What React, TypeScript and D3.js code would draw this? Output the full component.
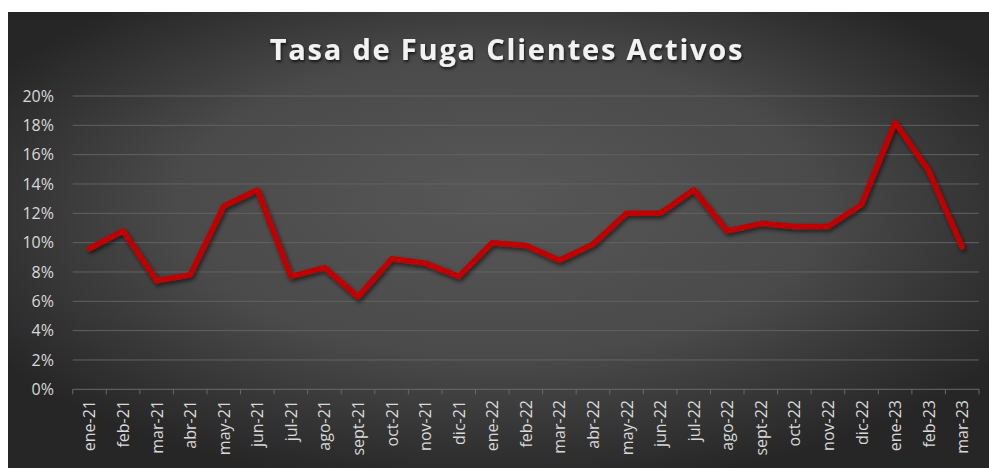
import React from "react";
import * as d3 from "d3";

const categories = ["ene-21","feb-21","mar-21","abr-21","may-21","jun-21","jul-21","ago-21","sept-21","oct-21","nov-21","dic-21","ene-22","feb-22","mar-22","abr-22","may-22","jun-22","jul-22","ago-22","sept-22","oct-22","nov-22","dic-22","ene-23","feb-23","mar-23"];
const values = [9.6,10.8,7.4,7.8,12.5,13.6,7.7,8.3,6.3,8.9,8.6,7.7,10.0,9.8,8.8,9.9,12.0,12.0,13.6,10.8,11.3,11.1,11.1,12.6,18.2,14.9,9.7];
const yTicks = [0,2,4,6,8,10,12,14,16,18,20];
const title = "Tasa de Fuga Clientes Activos";

export default function App() {
  const W = 989, H = 468;
  const left = 72.7, right = 979, top = 96, bottom = 389.3;
  const x = d3.scaleBand<string>().domain(categories).range([left, right]);
  const y = d3.scaleLinear().domain([0, 20]).range([bottom, top]);
  const line = d3.line<number>()
    .x((_, i) => (x(categories[i]) as number) + x.bandwidth() / 2)
    .y((d) => y(d));
  const font = "'Open Sans', sans-serif";
  return (
    <svg width={W} height={H} style={{ position: "absolute", left: 0, top: 0 }}>
      <defs>
        <radialGradient id="bg" cx="50%" cy="45%" r="60%" fx="50%" fy="40%">
          <stop offset="0%" stopColor="#575757" />
          <stop offset="55%" stopColor="#4a4a4a" />
          <stop offset="100%" stopColor="#262626" />
        </radialGradient>
        <filter id="shadow" x="-10%" y="-10%" width="120%" height="130%">
          <feDropShadow dx="1.5" dy="2.5" stdDeviation="2" floodColor="#000" floodOpacity="0.6" />
        </filter>
        <filter id="tshadow" x="-10%" y="-30%" width="120%" height="160%">
          <feDropShadow dx="1" dy="2" stdDeviation="1.5" floodColor="#000" floodOpacity="0.7" />
        </filter>
      </defs>
      <rect x={8} y={12} width={W - 8} height={H - 12} fill="url(#bg)" />
      <text x={507} y={60} textAnchor="middle" fill="#f2f2f2" fontFamily={font} fontWeight="bold" fontSize={29} letterSpacing={1.8} filter="url(#tshadow)">{title}</text>
      {yTicks.map((t) => (
        <g key={t}>
          {t > 0 && <line x1={left} x2={right} y1={y(t)} y2={y(t)} stroke="#626262" strokeWidth={1} />}
          <text x={54} y={y(t)} dy="0.35em" textAnchor="end" fill="#d9d9d9" fontFamily={font} fontSize={16}>{t}%</text>
        </g>
      ))}
      <line x1={left} x2={right} y1={bottom} y2={bottom} stroke="#6a6a6a" strokeWidth={1} />
      {categories.concat([""]).map((c, i) => {
        const xx = left + i * x.step();
        return <line key={"t" + i} x1={xx} x2={xx} y1={bottom} y2={bottom + 5} stroke="#6a6a6a" strokeWidth={1} />;
      })}
      {categories.map((c) => {
        const cx = (x(c) as number) + x.bandwidth() / 2;
        return (
          <text key={c} transform={`translate(${cx + 6},${400}) rotate(-90)`} textAnchor="end" fill="#d9d9d9" fontFamily={font} fontSize={16}>{c}</text>
        );
      })}
      <path d={line(values) || ""} fill="none" stroke="#c00000" strokeWidth={5.5} strokeLinejoin="round" strokeLinecap="round" filter="url(#shadow)" />
    </svg>
  );
}
